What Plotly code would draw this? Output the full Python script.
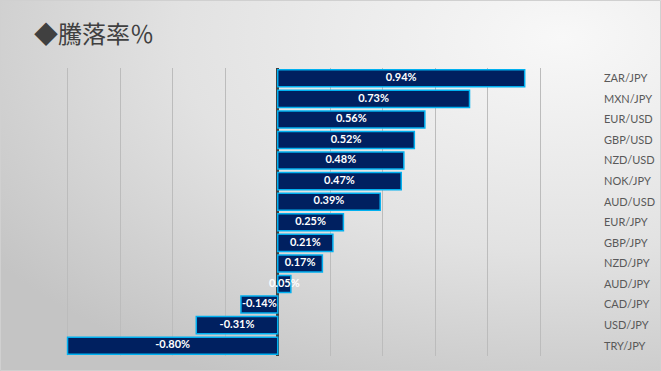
import base64
import plotly.graph_objects as go

pairs = ["ZAR/JPY", "MXN/JPY", "EUR/USD", "GBP/USD", "NZD/USD", "NOK/JPY", "AUD/USD",
         "EUR/JPY", "GBP/JPY", "NZD/JPY", "AUD/JPY", "CAD/JPY", "USD/JPY", "TRY/JPY"]
changes = [0.94, 0.73, 0.56, 0.52, 0.48, 0.47, 0.39, 0.25, 0.21, 0.17, 0.05, -0.14, -0.31, -0.80]
labels = [f"{v:.2f}%" for v in changes]
title_text = "◆騰落率％"

W, H = 661, 371

svg = f'''<svg xmlns="http://www.w3.org/2000/svg" width="{W}" height="{H}">
<defs><radialGradient id="g" cx="0.85" cy="0.1" r="1.05" fx="0.85" fy="0.1">
<stop offset="0" stop-color="#f8f8f8"/><stop offset="0.55" stop-color="#e2e2e2"/><stop offset="1" stop-color="#c4c4c4"/>
</radialGradient></defs>
<rect width="{W}" height="{H}" fill="url(#g)"/></svg>'''
bg = "data:image/svg+xml;base64," + base64.b64encode(svg.encode()).decode()

fig = go.Figure()
fig.add_trace(go.Bar(
    x=changes, y=pairs, orientation="h",
    marker=dict(color="#002060", line=dict(color="#00B0F0", width=1.5)),
    hoverinfo="skip",
))
fig.add_trace(go.Scatter(
    x=[v / 2 for v in changes], y=pairs, mode="text", text=labels,
    textfont=dict(family="Lato", size=11, color="white", weight="bold"),
    hoverinfo="skip", cliponaxis=False,
))

n = len(pairs)
fig.update_layout(
    width=W, height=H,
    margin=dict(l=15, r=68, t=68, b=15),
    paper_bgcolor="rgba(0,0,0,0)", plot_bgcolor="rgba(0,0,0,0)",
    showlegend=False, bargap=0.17,
    images=[dict(source=bg, xref="paper", yref="paper", x=-15 / 578, y=1 + 68 / 288,
                 sizex=W / 578, sizey=H / 288, xanchor="left", yanchor="top",
                 sizing="stretch", layer="below")],
    xaxis=dict(range=[-1.0, 1.2], dtick=0.2, showticklabels=False, showgrid=True,
               gridcolor="#bcbcbc", gridwidth=1, zeroline=True, zerolinecolor="#404040",
               zerolinewidth=2.5, fixedrange=True),
    yaxis=dict(side="right", range=[n - 0.5, -0.5], showgrid=False, zeroline=False,
               ticks="", ticklabelstandoff=10, automargin=False, fixedrange=True,
               tickfont=dict(family="Lato", size=11, color="#595959")),
    annotations=[dict(text=title_text, xref="paper", yref="paper",
                      x=-15 / 578 + 32 / 578, y=1 + (68 - 32) / 288,
                      xanchor="left", yanchor="middle", showarrow=False,
                      font=dict(family="Noto Sans CJK JP", size=24, color="#404040"))],
    shapes=[dict(type="rect", xref="paper", yref="paper",
                 x0=-15 / 578 + 0.5 / 578, x1=1 + 67.5 / 578,
                 y0=-15 / 288 + 0.5 / 288, y1=1 + 67.5 / 288,
                 line=dict(color="#d0d0d0", width=1), layer="below")],
)

fig.write_html("out.html", config={"displayModeBar": False, "staticPlot": True},
               post_script="document.body.style.margin='0';document.body.style.overflow='hidden';")
